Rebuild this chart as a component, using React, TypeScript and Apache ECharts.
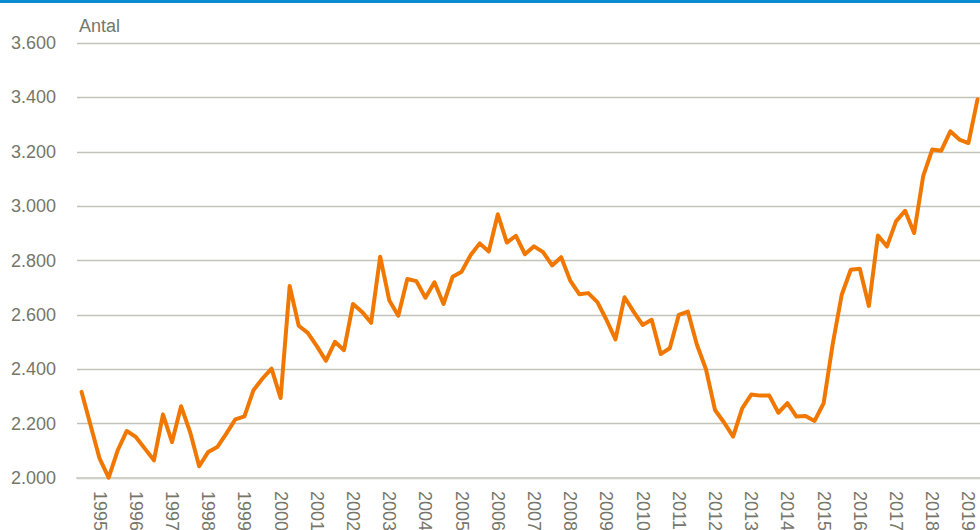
import React, { useEffect, useRef } from "react";
import * as echarts from "echarts";

const years: string[] = [
  "1995", "1996", "1997", "1998", "1999", "2000", "2001", "2002", "2003", "2004",
  "2005", "2006", "2007", "2008", "2009", "2010", "2011", "2012", "2013", "2014",
  "2015", "2016", "2017", "2018", "2019",
];
const quarters: string[] = ["K1", "K2", "K3", "K4"];

// Antal, kvartalsvis 1995K1 - 2019K4
const values1995to1999: number[] = [
  2317, 2194, 2071, 2001, 2102, 2173, 2151, 2108, 2065, 2234,
  2132, 2264, 2169, 2043, 2096, 2114, 2163, 2216, 2227, 2323,
];
const values2000to2004: number[] = [
  2366, 2402, 2294, 2706, 2560, 2534, 2485, 2431, 2501, 2470,
  2640, 2611, 2571, 2814, 2654, 2597, 2732, 2724, 2663, 2720,
];
const values2005to2009: number[] = [
  2640, 2740, 2759, 2820, 2863, 2833, 2970, 2866, 2891, 2823,
  2852, 2831, 2782, 2812, 2726, 2676, 2680, 2647, 2582, 2510,
];
const values2010to2014: number[] = [
  2665, 2612, 2563, 2582, 2456, 2477, 2600, 2612, 2490, 2400,
  2250, 2204, 2152, 2256, 2307, 2303, 2303, 2240, 2275, 2226,
];
const values2015to2019: number[] = [
  2228, 2210, 2275, 2492, 2674, 2766, 2770, 2633, 2892, 2852,
  2944, 2983, 2901, 3110, 3208, 3204, 3275, 3245, 3232, 3392,
];

const yTicks: number[] = [2000, 2200, 2400, 2600, 2800, 3000, 3200, 3400, 3600];

const values: number[] = [
  ...values1995to1999,
  ...values2000to2004,
  ...values2005to2009,
  ...values2010to2014,
  ...values2015to2019,
];
const categories: string[] = years.flatMap((y) => quarters.map((q) => `${y}${q}`));

const FONT = "'Liberation Sans', Arial, sans-serif";
const TEXT_COLOR = "#76766a";

const fmt = (v: number) => {
  const th = Math.floor(v / 1000);
  const rest = String(Math.round(v % 1000)).padStart(3, "0");
  return `${th}.${rest}`;
};

export default function App() {
  const ref = useRef<HTMLDivElement>(null);
  useEffect(() => {
    document.body.style.margin = "0";
    if (!ref.current) return;
    const chart = echarts.init(ref.current, null, { renderer: "svg" });
    chart.setOption({
      animation: false,
      backgroundColor: "#ffffff",
      grid: {
        left: 77,
        top: 43,
        width: 905,
        height: 435,
        containLabel: false,
        outerBoundsMode: "none",
      },
      graphic: [
        {
          type: "rect",
          left: 0,
          top: 0,
          shape: { width: 980, height: 3 },
          style: { fill: "#0a8ad0" },
        },
        {
          type: "text",
          left: 79,
          top: 17,
          style: { text: "Antal", font: `18px ${FONT}`, fill: TEXT_COLOR },
        },
      ],
      xAxis: {
        type: "category",
        data: categories,
        boundaryGap: true,
        axisTick: { show: false },
        axisLine: { show: true, lineStyle: { color: "#d0d0c8", width: 2 } },
        axisLabel: {
          interval: (index: number) => index % 4 === 2,
          formatter: (v: string) => v.slice(0, 4),
          rotate: -90,
          margin: 13,
          color: TEXT_COLOR,
          fontSize: 18,
          fontFamily: FONT,
        },
        splitLine: { show: false },
      },
      yAxis: {
        type: "value",
        min: yTicks[0],
        max: yTicks[yTicks.length - 1],
        interval: 200,
        axisLine: { show: false },
        axisTick: { show: false },
        axisLabel: {
          formatter: fmt,
          margin: 21,
          color: TEXT_COLOR,
          fontSize: 18,
          fontFamily: FONT,
        },
        splitLine: { show: true, lineStyle: { color: "#c2c2b8", width: 1.3 } },
      },
      series: [
        {
          type: "line",
          data: values,
          symbol: "none",
          lineStyle: { color: "#f07800", width: 4, join: "round", cap: "round" },
          itemStyle: { color: "#f07800" },
        },
      ],
    });
    return () => chart.dispose();
  }, []);
  return (
    <div
      ref={ref}
      style={{ position: "absolute", left: 0, top: 0, width: 980, height: 530 }}
    />
  );
}
